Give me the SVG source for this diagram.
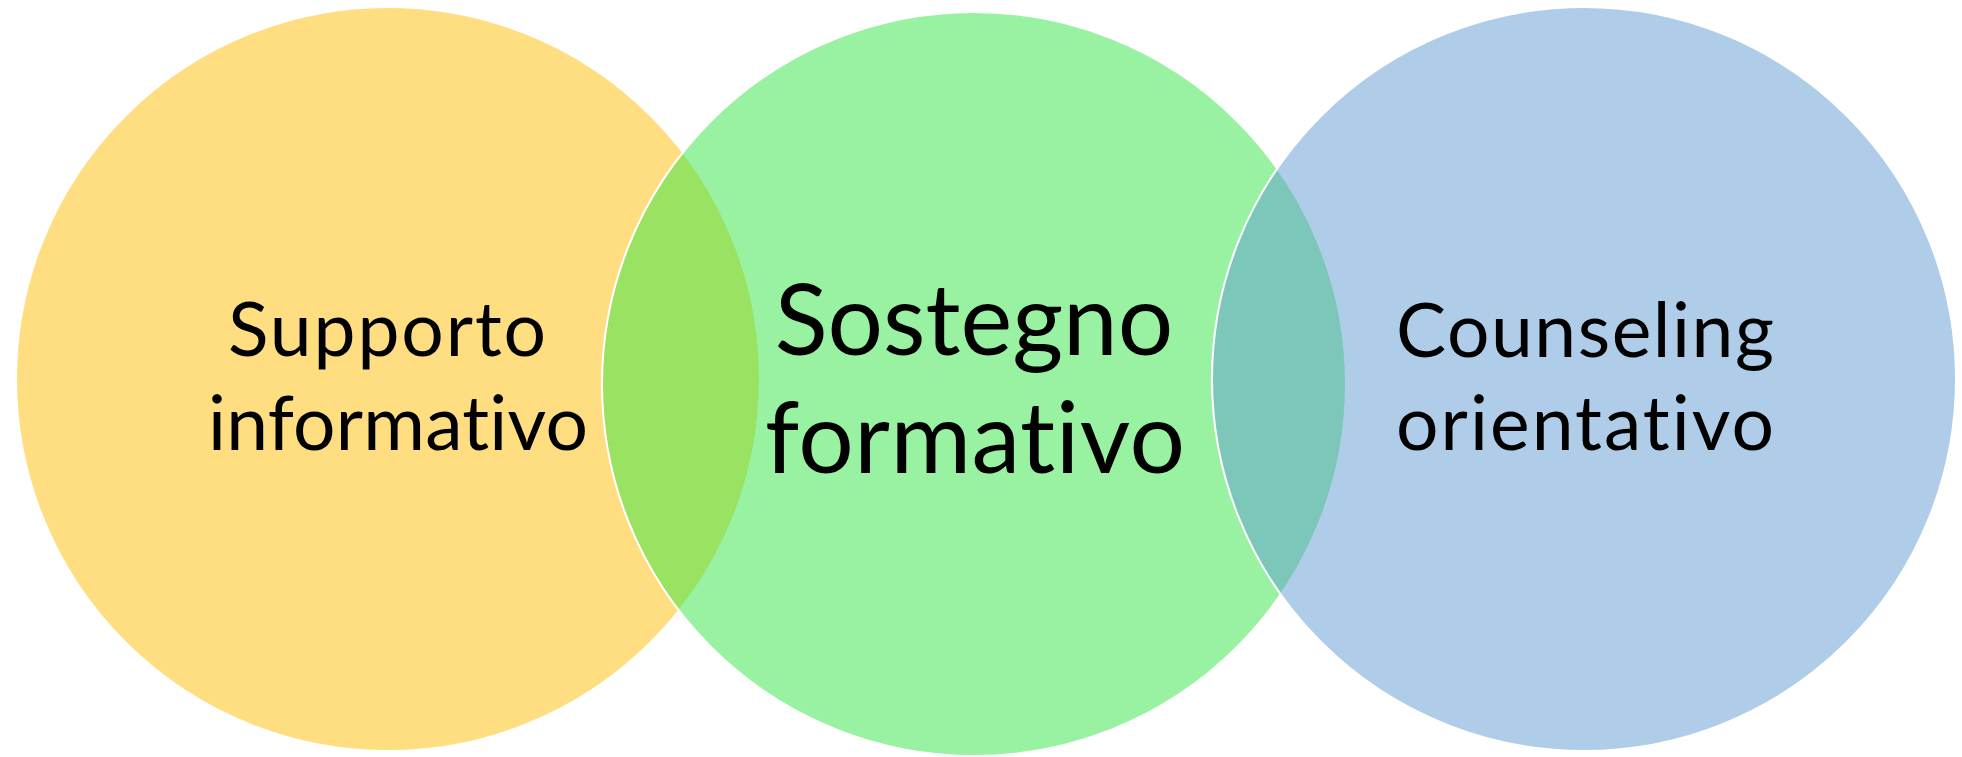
<svg xmlns="http://www.w3.org/2000/svg" width="1962" height="757" viewBox="0 0 1962 757">
<style>
.c{fill-opacity:0.5;stroke:#FFFFFF;stroke-width:2}
.t{font-family:Lato,"Open Sans","Liberation Sans",sans-serif;fill:#000000;text-anchor:middle;font-variant-ligatures:none;font-feature-settings:"liga" 0,"clig" 0}
.s{font-size:75px}
.l{font-size:98px}
</style>
<rect width="1962" height="757" fill="#FFFFFF"/>
<g id="node-supporto">
<circle class="c" cx="388" cy="379" r="372" fill="#FFBD03"/>
</g>
<g id="node-sostegno">
<circle class="c" cx="974" cy="384" r="372" fill="#33E543"/>
</g>
<g id="node-counseling">
<circle class="c" cx="1584" cy="379" r="372" fill="#5F9BD3"/>
</g>
<g id="connectors"></g>
<g id="labels">
<text class="t s" x="387" y="356" textLength="318">Supporto</text>
<text class="t s" x="398" y="450" textLength="380">informativo</text>
<text class="t l" x="974" y="355">Sostegno</text>
<text class="t l" x="975" y="473" textLength="420">formativo</text>
<text class="t s" x="1585" y="357" textLength="378">Counseling</text>
<text class="t s" x="1585" y="450" textLength="378">orientativo</text>
</g>
</svg>
